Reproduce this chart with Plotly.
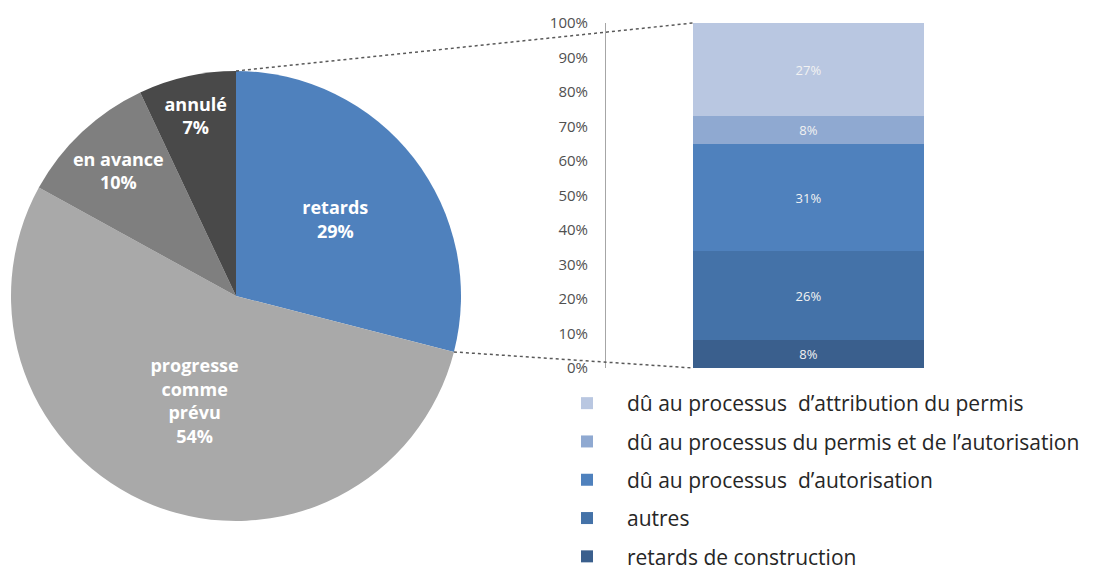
import math
import plotly.graph_objects as go

# la page ajoute une marge de 8 px en haut et à gauche du graphique
PAD = 8
W, H = 1093 - PAD, 570 - PAD

# camembert : état des projets
pie_labels = ["retards", "progresse<br>comme<br>prévu", "en avance", "annulé"]
pie_values = [29, 54, 10, 7]
pie_colors = ["#4F81BD", "#A9A9A9", "#7F7F7F", "#494949"]

# détail des retards (du bas vers le haut de la barre)
bar_names = [
    "retards de construction",
    "autres",
    "dû au processus  d’autorisation",
    "dû au processus du permis et de l’autorisation",
    "dû au processus  d’attribution du permis",
]
bar_values = [0.08, 0.26, 0.31, 0.08, 0.27]
bar_colors = ["#3A5F8D", "#4472A8", "#4F81BD", "#8FA9D1", "#B9C7E1"]
y_ticks = [i / 10 for i in range(11)]


def fx(px):
    return (px - PAD) / W


def fy(py):
    return 1 - (py - PAD) / H


fig = go.Figure()

# position du camembert (pixels de l'écran)
cx, cy, r = 236, 296, 225

fig.add_trace(go.Pie(
    labels=pie_labels,
    values=pie_values,
    marker=dict(colors=pie_colors),
    sort=False,
    direction="clockwise",
    rotation=0,
    texttemplate="<b>%{label}<br>%{percent:.0%}</b>",
    textposition="inside",
    insidetextorientation="horizontal",
    textfont=dict(family="Open Sans", size=18, color="white"),
    domain=dict(x=[fx(cx - r), fx(cx + r)], y=[fy(cy + r), fy(cy - r)]),
    showlegend=False,
    hoverinfo="label+percent",
))

n = len(bar_names)
for i, (name, val, col) in enumerate(zip(bar_names, bar_values, bar_colors)):
    fig.add_trace(go.Bar(
        x=[0],
        y=[val],
        name=name,
        width=1,
        marker=dict(color=col, line=dict(width=0)),
        text=[f"{val:.0%}"],
        textposition="inside",
        insidetextanchor="middle",
        textfont=dict(family="Open Sans", size=13, color="#F2F2F2"),
        legendgroup=name,
        legendrank=n - i,
    ))

# axes de la barre : domaine en pixels
ax_left, ax_right = 606, 1000
bar_left, bar_right = 693, 924
ppu = bar_right - bar_left
x_range = [-0.5 - (bar_left - ax_left) / ppu, 0.5 + (ax_right - bar_right) / ppu]
y_top, y_bot = 23, 368

fig.update_layout(
    width=W, height=H,
    margin=dict(l=0, r=0, t=0, b=0, autoexpand=False),
    paper_bgcolor="white",
    plot_bgcolor="white",
    barmode="stack",
    bargap=0,
    uniformtext=dict(minsize=10),
    xaxis=dict(domain=[fx(ax_left), fx(ax_right)], range=x_range,
               visible=False, fixedrange=True),
    yaxis=dict(domain=[fy(y_bot), fy(y_top)], range=[0, 1],
               tickvals=y_ticks, tickformat=".0%",
               showgrid=False, zeroline=False,
               showline=True, linecolor="#A6A6A6", linewidth=1,
               ticks="", ticklabelstandoff=14,
               tickfont=dict(family="Open Sans", size=15, color="#505050")),
    legend=dict(
        x=fx(547), y=fy(383), xanchor="left", yanchor="top",
        traceorder="grouped", tracegroupgap=8,
        itemwidth=70,
        font=dict(family="Open Sans", size=21, color="#262626"),
        bgcolor="rgba(0,0,0,0)",
    ),
    font=dict(family="Open Sans"),
)

# lignes pointillées reliant la part "retards" à la barre
frac = pie_values[0] / sum(pie_values)
ang = 2 * math.pi * frac
p_top = (cx, cy - r)
p_end = (cx + r * math.sin(ang), cy - r * math.cos(ang))

for (x0, y0), y1 in [(p_top, y_top), (p_end, y_bot)]:
    fig.add_shape(type="line", xref="paper", yref="paper",
                  x0=fx(x0), y0=fy(y0), x1=fx(bar_left), y1=fy(y1),
                  line=dict(color="#595959", width=1.5, dash="dot"))

fig.write_html("out.html")
